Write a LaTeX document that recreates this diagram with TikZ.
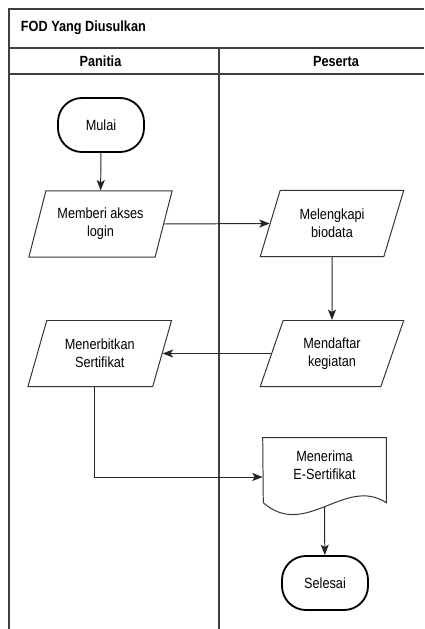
\documentclass[tikz,border=0pt]{standalone}
\usepackage{fontspec}
\setmainfont{Liberation Sans}[FakeStretch=0.86]
\usetikzlibrary{shapes.geometric,arrows.meta}

\begin{document}
\begin{tikzpicture}[x=0.025cm,y=-0.025cm,
    font=\fontsize{10.5}{12.8}\selectfont,
    lane/.style={draw=black!75,line width=0.9pt},
    terminal/.style={draw,line width=1.3pt,rounded corners=0.6cm,
      minimum width=2.15cm,minimum height=1.35cm,align=center},
    proses/.style={draw=black!80,line width=0.7pt,trapezium,
      trapezium left angle=72,trapezium right angle=108,
      trapezium stretches=true,minimum width=3.6cm,minimum height=1.65cm,
      inner xsep=0pt,align=center},
    dokumen/.style={minimum width=3.075cm,minimum height=1.35cm,align=center},
    alur/.style={draw=black!85,line width=0.7pt,-{Stealth[length=0.26cm,width=0.2cm,inset=0.06cm]}}]
  \useasboundingbox (0,0) rectangle (424,629);

  % kolom
  \draw[lane] (9,629) -- (9,9) -- (424,9);
  \draw[lane] (9,48) -- (424,48);
  \draw[lane] (9,74) -- (424,74);
  \draw[lane] (219,48) -- (219,629);
  \node[anchor=west,font=\fontsize{10.5}{12}\selectfont\bfseries] (judul) at (16,28) {FOD Yang Diusulkan};
  \node[font=\fontsize{10.5}{12}\selectfont\bfseries] (panitia) at (100.5,61) {Panitia};
  \node[font=\fontsize{10.5}{12}\selectfont\bfseries] (peserta) at (336,61) {Peserta};

  % simbol
  \node[terminal] (mulai) at (101,125) {Mulai};
  \node[proses] (akses) at (100.5,224) {Memberi akses\\login};
  \node[proses] (biodata) at (332,223.5) {Melengkapi\\biodata};
  \node[proses] (daftar) at (332,353.5) {Mendaftar\\kegiatan};
  \node[proses] (terbit) at (99.75,353.5) {Menerbitkan\\Sertifikat};
  \node[dokumen] (terima) at (324.5,465) {Menerima\\E-Sertifikat};
  \draw[draw=black!80,line width=0.7pt] (terima.north west) -- (terima.north east) -- ++(0,65)
    .. controls +(-41,-27) and +(42,37) .. ++(-123,0) -- cycle;
  \coordinate (terimabawah) at ([yshift=-0.369cm]terima.south);
  \node[terminal] (selesai) at (325,583) {Selesai};

  % alur
  \begin{scope}[alur]
    \draw (mulai) -- (akses);
    \draw (akses.east) -- (biodata.west);
    \draw (biodata) -- (daftar);
    \draw (daftar.west) -- (terbit.east);
    \draw ([xshift=-0.12cm]terbit.south) |- ([yshift=-0.3cm]terima.west);
    \draw (terimabawah) -- (selesai);
  \end{scope}
\end{tikzpicture}
\end{document}
